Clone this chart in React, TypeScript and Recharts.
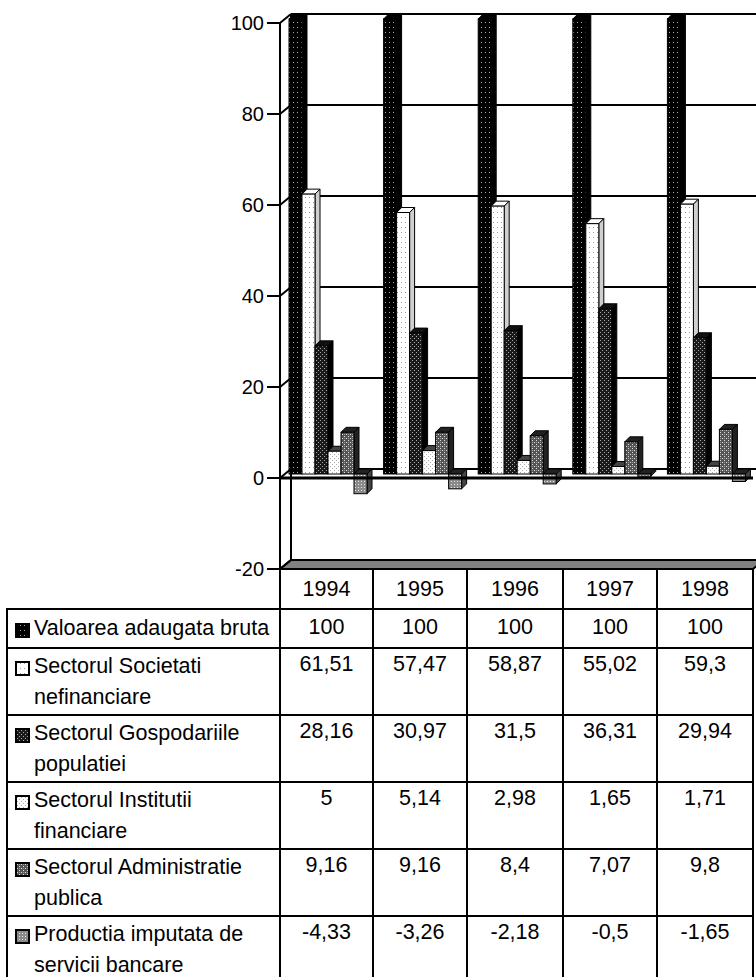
import { BarChart, Bar, XAxis, YAxis, CartesianGrid } from 'recharts'

const years = ['1994', '1995', '1996', '1997', '1998']
const valoarea = [100, 100, 100, 100, 100]
const societati = [61.51, 57.47, 58.87, 55.02, 59.3]
const gospodarii = [28.16, 30.97, 31.5, 36.31, 29.94]
const institutii = [5, 5.14, 2.98, 1.65, 1.71]
const administratie = [9.16, 9.16, 8.4, 7.07, 9.8]
const productia = [-4.33, -3.26, -2.18, -0.5, -1.65]
const yTicks = [-20, 0, 20, 40, 60, 80, 100]

const series = [
  { key: 'valoarea', label: 'Valoarea adaugata bruta', values: valoarea, fill: 'url(#pat-valoarea)', side: '#000', top: '#000' },
  { key: 'societati', label: 'Sectorul Societati\nnefinanciare', values: societati, fill: 'url(#pat-societati)', side: '#cfcfcf', top: '#fff' },
  { key: 'gospodarii', label: 'Sectorul Gospodariile\npopulatiei', values: gospodarii, fill: 'url(#pat-gospodarii)', side: '#000', top: '#111' },
  { key: 'institutii', label: 'Sectorul Institutii\nfinanciare', values: institutii, fill: 'url(#pat-institutii)', side: '#bbb', top: '#444' },
  { key: 'administratie', label: 'Sectorul Administratie\npublica', values: administratie, fill: 'url(#pat-administratie)', side: '#222', top: '#222' },
  { key: 'productia', label: 'Productia imputata de\nservicii bancare', values: productia, fill: 'url(#pat-productia)', side: '#444', top: '#222' },
]

const data = years.map((year, i) => {
  const row: Record<string, string | number> = { year }
  series.forEach((s) => (row[s.key] = s.values[i]))
  return row
})

const FONT = '"Liberation Sans", Arial, sans-serif'

// chart frame: plot area is the back wall of the 3D box
const CHART_W = 780
const CHART_H = 592
const MARGIN = { top: 14, right: 16, bottom: 32, left: 251 }
const AXIS_W = 40
const PLOT_W = CHART_W - MARGIN.left - AXIS_W - MARGIN.right
const PLOT_H = CHART_H - MARGIN.top - MARGIN.bottom

// projection of the front edge relative to the back wall
const SHIFT_X = 11
const SHIFT_Y = 9

// bar projection
const BAR_DX = -10
const BAR_DY = 5
const DEPTH = 5

const fmt = (v: number) => String(v).replace('.', ',')

function Patterns() {
  return (
    <svg width={0} height={0} style={{ position: 'absolute' }}>
      <defs>
        <pattern id="pat-valoarea" width={4} height={5} patternUnits="userSpaceOnUse">
          <rect width={4} height={5} fill="#000" />
          <rect x={1} y={2} width={1} height={1} fill="#aaa" />
        </pattern>
        <pattern id="pat-societati" width={4} height={5} patternUnits="userSpaceOnUse">
          <rect width={4} height={5} fill="#fff" />
          <rect x={1} y={2} width={1} height={1} fill="#999" />
        </pattern>
        <pattern id="pat-gospodarii" width={4} height={4} patternUnits="userSpaceOnUse">
          <rect width={4} height={4} fill="#1a1a1a" />
          <rect x={0} y={0} width={1} height={1} fill="#aaa" />
          <rect x={2} y={2} width={1} height={1} fill="#aaa" />
        </pattern>
        <pattern id="pat-institutii" width={4} height={4} patternUnits="userSpaceOnUse">
          <rect width={4} height={4} fill="#fff" />
          <rect x={0} y={0} width={1} height={1} fill="#aaa" />
          <rect x={2} y={2} width={1} height={1} fill="#aaa" />
        </pattern>
        <pattern id="pat-administratie" width={4} height={4} patternUnits="userSpaceOnUse">
          <rect width={4} height={4} fill="#555" />
          <rect x={0} y={0} width={1} height={1} fill="#ddd" />
          <rect x={2} y={2} width={1} height={1} fill="#ddd" />
          <rect x={0} y={2} width={1} height={1} fill="#999" />
        </pattern>
        <pattern id="pat-productia" width={3} height={3} patternUnits="userSpaceOnUse">
          <rect width={3} height={3} fill="#8a8a8a" />
          <rect x={1} y={1} width={1} height={1} fill="#e6e6e6" />
        </pattern>
      </defs>
    </svg>
  )
}

function Bar3D(props: any) {
  const { x, y, width, height, fill, side, top } = props
  if (x == null || y == null) return null
  const y0 = Math.min(y, y + height)
  const y1 = Math.max(y, y + height)
  const l = x + BAR_DX
  const r = l + width
  const t = y0 + BAR_DY
  const b = y1 + BAR_DY
  return (
    <g stroke="#000" strokeWidth={1}>
      <polygon points={`${l},${t} ${l + DEPTH},${t - DEPTH} ${r + DEPTH},${t - DEPTH} ${r},${t}`} fill={top} />
      <polygon points={`${r},${t} ${r + DEPTH},${t - DEPTH} ${r + DEPTH},${b - DEPTH} ${r},${b}`} fill={side} />
      <rect x={l} y={t} width={width} height={b - t} fill={fill} />
    </g>
  )
}

// value axis drawn on the front edge, with the side wall and floor
function FrontTick(props: any) {
  const { x, y, payload } = props
  const v = payload.value
  const fx = x - SHIFT_X
  const fy = y + SHIFT_Y
  return (
    <g>
      {v === yTicks[0] && (
        <>
          <polygon
            points={`${fx},${fy} ${x},${y} ${x + PLOT_W},${y} ${fx + PLOT_W},${fy}`}
            fill="#808080"
            stroke="#000"
            strokeWidth={2}
          />
          <line x1={fx} y1={fy} x2={fx} y2={fy - PLOT_H} stroke="#000" strokeWidth={2} />
        </>
      )}
      {v === 0 && <line x1={fx} y1={fy} x2={fx + PLOT_W} y2={fy} stroke="#000" strokeWidth={3} />}
      <line x1={fx} y1={fy} x2={x} y2={y} stroke="#000" strokeWidth={2} />
      <line x1={fx - 13} y1={fy} x2={fx} y2={fy} stroke="#000" strokeWidth={2} />
      <text x={fx - 16} y={fy} dy="0.36em" textAnchor="end" fontSize={20} fontFamily={FONT} fill="#000">
        {v}
      </text>
    </g>
  )
}

function Icon({ fill }: { fill: string }) {
  return (
    <svg width={15} height={15} style={{ flex: 'none', marginTop: 10, marginRight: 4 }}>
      <rect x={1} y={1} width={13} height={13} fill={fill} stroke="#000" strokeWidth={2} />
    </svg>
  )
}

const cell: React.CSSProperties = { border: '2px solid #000', padding: 0, background: '#fff' }
const colWidths = [273, 93, 94, 96, 94, 96]

function DataTable() {
  return (
    <table
      style={{
        position: 'absolute',
        left: 6,
        top: 568,
        borderCollapse: 'collapse',
        tableLayout: 'fixed',
        fontFamily: FONT,
        fontSize: 21.5,
        lineHeight: '31px',
        color: '#000',
      }}
    >
      <colgroup>
        {colWidths.map((w, i) => (
          <col key={i} style={{ width: w }} />
        ))}
      </colgroup>
      <tbody>
        <tr style={{ height: 40 }}>
          <td style={{ ...cell, background: 'transparent', borderTopStyle: 'hidden', borderLeftStyle: 'hidden' }} />
          {years.map((yr) => (
            <td key={yr} style={{ ...cell, textAlign: 'center', verticalAlign: 'middle' }}>
              {yr}
            </td>
          ))}
        </tr>
        {series.map((s, si) => (
          <tr key={s.key} style={{ height: si === 0 ? 39 : 67 }}>
            <td style={{ ...cell, paddingLeft: 7, verticalAlign: 'middle' }}>
              <div style={{ display: 'flex', alignItems: 'flex-start' }}>
                <Icon fill={s.fill} />
                <span style={{ whiteSpace: 'pre-line' }}>{s.label}</span>
              </div>
            </td>
            {s.values.map((v, i) => (
              <td key={i} style={{ ...cell, textAlign: 'center', verticalAlign: 'top', paddingTop: si === 0 ? 2 : 0 }}>
                {fmt(v)}
              </td>
            ))}
          </tr>
        ))}
      </tbody>
    </table>
  )
}

export default function App() {
  return (
    <div
      style={{
        position: 'absolute',
        left: 0,
        top: 0,
        width: 756,
        height: 977,
        overflow: 'hidden',
        background: '#fff',
      }}
    >
      <Patterns />
      <BarChart width={CHART_W} height={CHART_H} data={data} margin={MARGIN} barSize={13} barGap={0}>
        <CartesianGrid horizontal vertical={false} stroke="#000" strokeWidth={2} />
        <XAxis dataKey="year" hide />
        <YAxis
          domain={[-20, 100]}
          ticks={yTicks}
          interval={0}
          width={AXIS_W}
          tickSize={0}
          tickMargin={0}
          tickLine={false}
          axisLine={{ stroke: '#000', strokeWidth: 2 }}
          tick={(p: any) => <FrontTick {...p} />}
        />
        {series.map((s) => (
          <Bar
            key={s.key}
            dataKey={s.key}
            name={s.label}
            fill={s.fill}
            isAnimationActive={false}
            shape={(p: any) => <Bar3D {...p} side={s.side} top={s.top} />}
          />
        ))}
      </BarChart>
      <DataTable />
    </div>
  )
}
